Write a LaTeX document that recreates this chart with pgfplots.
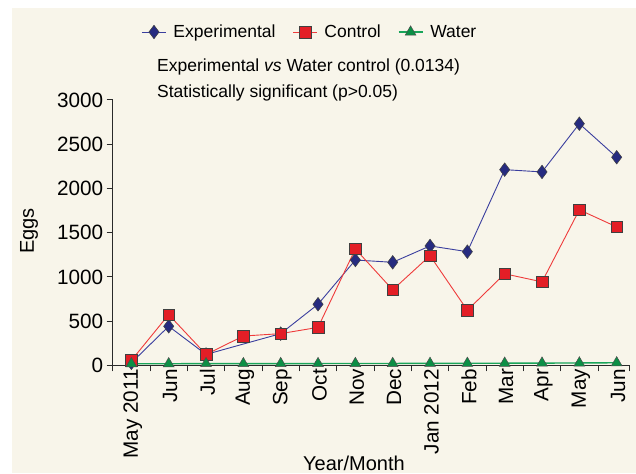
\documentclass[border=0pt]{standalone}
\usepackage{pgfplots}
\pgfplotsset{compat=1.18}
\usepackage{fontspec}
\setmainfont{Liberation Sans}
\definecolor{bg}{HTML}{F8F5EA}
\definecolor{axisc}{HTML}{2A2A2A}
\definecolor{expline}{HTML}{3A3E9E}
\definecolor{expfill}{HTML}{262B80}
\definecolor{conline}{HTML}{EF3B3B}
\definecolor{confill}{HTML}{E31E26}
\definecolor{watline}{HTML}{19A55A}
\definecolor{watfill}{HTML}{0B8F45}
\begin{document}
\begin{tikzpicture}
\useasboundingbox (0,0) rectangle (636pt,473pt);
\fill[bg] (12pt,0) rectangle (636pt,465pt);
\begin{axis}[
  at={(112.7pt,107.5pt)}, anchor=south west,
  scale only axis, width=516.3pt, height=265.5pt,
  xmin=-0.5, xmax=13.33, ymin=0, ymax=3000,
  axis x line=bottom, axis y line=left,
  axis line style={-, line width=1pt, color=axisc},
  tick align=outside, major tick length=6pt,
  tick style={line width=1pt, color=axisc},
  xtick={-0.5,0.5,1.5,2.5,3.5,4.5,5.5,6.5,7.5,8.5,9.5,10.5,11.5,12.5,13.33},
  xticklabels={},
  extra x ticks={0,1,2,3,4,5,6,7,8,9,10,11,12,13},
  extra x tick labels={May 2011,Jun,Jul,Aug,Sep,Oct,Nov,Dec,Jan 2012,Feb,Mar,Apr,May,Jun},
  extra x tick style={major tick length=0pt, tick style={draw=none},
    xticklabel style={rotate=90, anchor=east, yshift=-1.5pt, font=\fontsize{20.7}{24}\selectfont, text=black}},
  ytick={0,500,1000,1500,2000,2500,3000},
  yticklabel style={font=\fontsize{20.7}{24}\selectfont, text=black},
  /pgf/number format/assume math mode=true,
  /pgf/number format/1000 sep={},
  scaled y ticks=false,
  clip=false,
  legend columns=-1,
  legend image code/.code={\draw[mark repeat=2,mark phase=2] plot coordinates {(0pt,0pt)(12pt,0pt)(24pt,0pt)};},
  legend style={draw=none, fill=none, at={(0.382,1.256)}, anchor=center,
    font=\fontsize{17.5}{21}\selectfont,
    /tikz/every odd column/.append style={column sep=5pt},
    /tikz/every even column/.append style={column sep=15pt}},
]
\addplot[color=expline, line width=0.9pt, mark=diamond*, mark size=6.8pt,
  mark options={fill=expfill, draw=black!75, line width=0.5pt}]
  coordinates {(0,30)(1,443)(2,125)(4,360)(5,692)(6,1192)(7,1166)(8,1351)(9,1286)(10,2213)(11,2187)(12,2732)(13,2353)};
\addlegendentry{Experimental}
\addplot[color=conline, line width=0.9pt, mark=square*, mark size=5.8pt,
  mark options={fill=confill, draw=black!75, line width=0.6pt}]
  coordinates {(0,57)(1,575)(2,125)(3,333)(4,360)(5,431)(6,1317)(7,855)(8,1241)(9,624)(10,1036)(11,945)(12,1759)(13,1566)};
\addlegendentry{Control}
\addplot[color=watline, line width=1.4pt, mark=triangle*, mark size=6.2pt,
  mark options={fill=watfill, draw=black!70, line width=0.5pt}]
  coordinates {(0,20)(1,20)(2,21)(3,21)(4,22)(5,22)(6,23)(7,23)(8,24)(9,25)(10,26)(11,27)(12,29)(13,31)};
\addlegendentry{Water}
\end{axis}
\node[anchor=base west, inner sep=0pt, font=\fontsize{17.5}{21}\selectfont] at (157pt,401.3pt) {Experimental \textit{vs} Water control (0.0134)};
\node[anchor=base west, inner sep=0pt, font=\fontsize{17.5}{21}\selectfont] at (157pt,375.3pt) {Statistically significant (p>0.05)};
\node[rotate=90, font=\fontsize{20}{24}\selectfont] at (29pt,242pt) {Eggs};
\node[font=\fontsize{20}{24}\selectfont] at (354pt,10pt) {Year/Month};
\end{tikzpicture}
\end{document}
